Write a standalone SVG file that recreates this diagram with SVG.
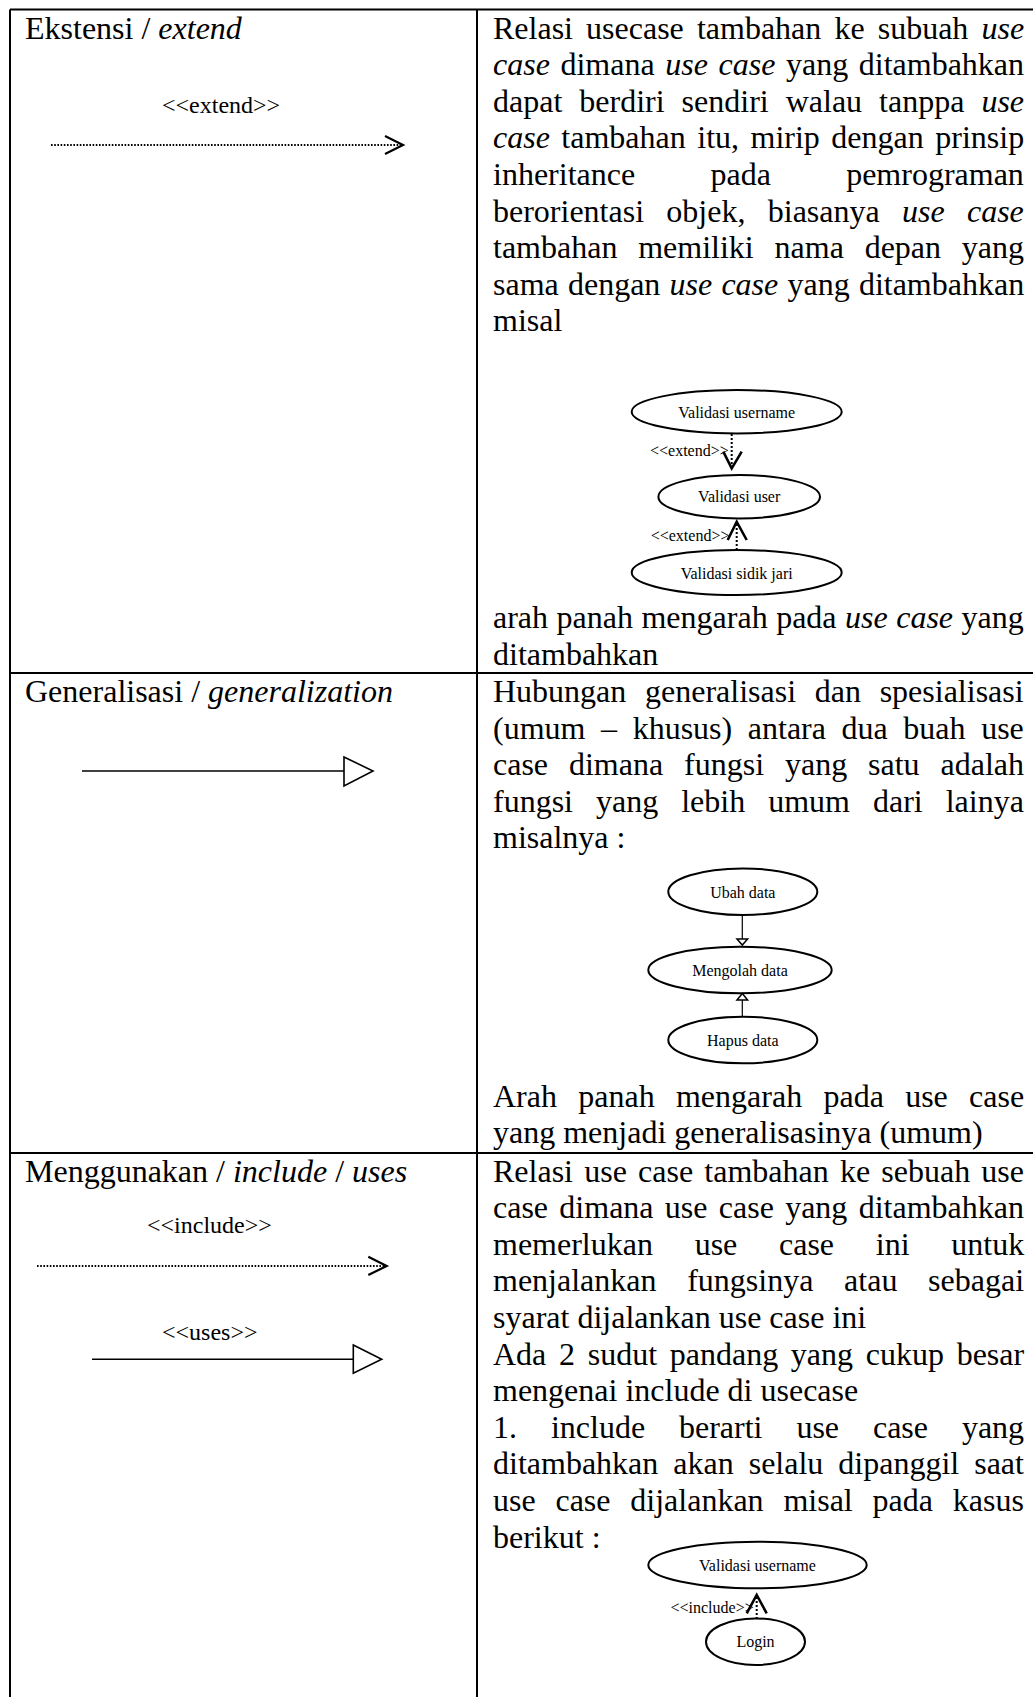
<svg xmlns="http://www.w3.org/2000/svg" width="1033" height="1697" viewBox="0 0 1033 1697">
<style>
.t{font-family:"Liberation Serif","Times New Roman",serif;font-size:32px;fill:#000;font-kerning:none}
.i{font-style:italic}
.lb{font-family:"Liberation Serif","Times New Roman",serif;font-size:24px;fill:#000}
.s{font-family:"Liberation Serif","Times New Roman",serif;font-size:16px;fill:#000}
.c{text-anchor:middle}
.grid{stroke:#000;stroke-width:2;fill:none}
.dot{stroke:#000;stroke-width:2;stroke-dasharray:1.6 1.6;fill:none}
.dot2{stroke:#000;stroke-width:2;stroke-dasharray:2 2;fill:none}
.sol{stroke:#000;stroke-width:1.6;fill:none}
.thin{stroke:#000;stroke-width:1.2;fill:none}
.chev{stroke:#000;stroke-width:2.2;fill:none;stroke-linejoin:miter}
.chev2{stroke:#000;stroke-width:2.6;fill:none}
.tri{stroke:#000;stroke-width:1.6;fill:#fff}
.tri2{stroke:#000;stroke-width:1.5;fill:#fff}
.uc{stroke:#000;stroke-width:2;fill:#fff}
</style>
<rect width="1033" height="1697" fill="#fff"/>
<g id="table">
<path class="grid" d="M10 9.5H1033M10 673H1033M10 1153H1033M10 9.5V1697M477 9.5V1697"/>
</g>
<g id="row1-left">
<text class="t" x="25" y="38.5">Ekstensi / <tspan class="i">extend</tspan></text>
<text class="lb" x="162" y="112.6">&lt;&lt;extend&gt;&gt;</text>
</g>
<g id="row1-right">
<text class="t" x="493" y="38.5" style="word-spacing:5.1px">Relasi usecase tambahan ke subuah <tspan class="i">use</tspan></text>
<text class="t" x="493" y="75.1" style="word-spacing:2.6px"><tspan class="i">case</tspan> dimana <tspan class="i">use case</tspan> yang ditambahkan</text>
<text class="t" x="493" y="111.7" style="word-spacing:9px">dapat berdiri sendiri walau tanppa <tspan class="i">use</tspan></text>
<text class="t" x="493" y="148.3" style="word-spacing:3.5px"><tspan class="i">case</tspan> tambahan itu, mirip dengan prinsip</text>
<text class="t" x="493" y="184.9" style="word-spacing:67.3px">inheritance pada pemrograman</text>
<text class="t" x="493" y="221.5" style="word-spacing:14.3px">berorientasi objek, biasanya <tspan class="i">use case</tspan></text>
<text class="t" x="493" y="258.1" style="word-spacing:12.8px">tambahan memiliki nama depan yang</text>
<text class="t" x="493" y="294.7" style="word-spacing:1.2px">sama dengan <tspan class="i">use case</tspan> yang ditambahkan</text>
<text class="t" x="493" y="331.3">misal</text>
<text class="t" x="493" y="628" style="word-spacing:0.5px">arah panah mengarah pada <tspan class="i">use case</tspan> yang</text>
<text class="t" x="493" y="664.6">ditambahkan</text>
</g>
<g id="row2-left">
<text class="t" x="25" y="702">Generalisasi / <tspan class="i">generalization</tspan></text>
</g>
<g id="row2-right">
<text class="t" x="493" y="702" style="word-spacing:10.7px">Hubungan generalisasi dan spesialisasi</text>
<text class="t" x="493" y="738.6" style="word-spacing:7.6px">(umum – khusus) antara dua buah use</text>
<text class="t" x="493" y="775.2" style="word-spacing:12.9px">case dimana fungsi yang satu adalah</text>
<text class="t" x="493" y="811.8" style="word-spacing:15px">fungsi yang lebih umum dari lainya</text>
<text class="t" x="493" y="848.4">misalnya :</text>
<text class="t" x="493" y="1106.6" style="word-spacing:13.3px">Arah panah mengarah pada use case</text>
<text class="t" x="493" y="1143.2">yang menjadi generalisasinya (umum)</text>
</g>
<g id="row3-left">
<text class="t" x="25" y="1181.5">Menggunakan / <tspan class="i">include</tspan> / <tspan class="i">uses</tspan></text>
<text class="lb" x="147" y="1233.3">&lt;&lt;include&gt;&gt;</text>
<text class="lb" x="162" y="1340">&lt;&lt;uses&gt;&gt;</text>
</g>
<g id="row3-right">
<text class="t" x="493" y="1181.5" style="word-spacing:3.2px">Relasi use case tambahan ke sebuah use</text>
<text class="t" x="493" y="1218.1" style="word-spacing:3.3px">case dimana use case yang ditambahkan</text>
<text class="t" x="493" y="1254.7" style="word-spacing:33.7px">memerlukan use case ini untuk</text>
<text class="t" x="493" y="1291.3" style="word-spacing:22.7px">menjalankan fungsinya atau sebagai</text>
<text class="t" x="493" y="1327.9">syarat dijalankan use case ini</text>
<text class="t" x="493" y="1364.5" style="word-spacing:4.7px">Ada 2 sudut pandang yang cukup besar</text>
<text class="t" x="493" y="1401.1">mengenai include di usecase</text>
<text class="t" x="493" y="1437.7" style="word-spacing:25.9px">1. include berarti use case yang</text>
<text class="t" x="493" y="1474.3" style="word-spacing:7px">ditambahkan akan selalu dipanggil saat</text>
<text class="t" x="493" y="1510.9" style="word-spacing:11.8px">use case dijalankan misal pada kasus</text>
<text class="t" x="493" y="1547.5">berikut :</text>
</g>
<g id="uc-validasi-username-1">
<ellipse class="uc" cx="736.7" cy="411.7" rx="105" ry="21.7"/>
<text class="s c" x="736.7" y="418">Validasi username</text>
</g>
<g id="uc-validasi-user">
<ellipse class="uc" cx="739.2" cy="496.7" rx="80.8" ry="21.7"/>
<text class="s c" x="739.2" y="501.7">Validasi user</text>
</g>
<g id="uc-validasi-sidik-jari">
<ellipse class="uc" cx="736.7" cy="572.5" rx="105" ry="22.5"/>
<text class="s c" x="736.7" y="578.5">Validasi sidik jari</text>
</g>
<g id="uc-ubah-data">
<ellipse class="uc" cx="742.8" cy="891.7" rx="74.5" ry="23.3"/>
<text class="s c" x="742.8" y="897.5">Ubah data</text>
</g>
<g id="uc-mengolah-data">
<ellipse class="uc" cx="740" cy="970" rx="91.7" ry="23.3"/>
<text class="s c" x="740" y="975.5">Mengolah data</text>
</g>
<g id="uc-hapus-data">
<ellipse class="uc" cx="742.8" cy="1040" rx="74.5" ry="23.3"/>
<text class="s c" x="742.8" y="1046">Hapus data</text>
</g>
<g id="uc-validasi-username-2">
<ellipse class="uc" cx="757.5" cy="1565" rx="109.2" ry="23.3"/>
<text class="s c" x="757.5" y="1570.5">Validasi username</text>
</g>
<g id="uc-login">
<ellipse class="uc" cx="755.5" cy="1641.7" rx="49.5" ry="23.3"/>
<text class="s c" x="755.5" y="1647">Login</text>
</g>
<g id="connectors">
<path class="dot" d="M51 145H401"/>
<path class="chev" d="M385 136L403 145L385 154"/>
<path class="sol" d="M82 771H344"/>
<path class="tri" d="M344 757L373 771L344 786Z"/>
<path class="dot" d="M37 1266H384"/>
<path class="chev" d="M368.3 1256.7L386.7 1266L368.3 1275"/>
<path class="sol" d="M92 1359.3H353.3"/>
<path class="tri" d="M353.3 1345L381.7 1359.3L353.3 1373.3Z"/>
<path class="dot2" d="M731.7 434V466"/>
<path class="chev2" d="M723.3 451.7L731.7 468.3L741.7 451.7"/>
<path class="dot2" d="M736.7 524V550"/>
<path class="chev2" d="M727.7 540L736.7 521.7L746.7 540"/>
<path class="thin" d="M742.3 915V939"/>
<path class="tri2" d="M737 939L747.6 939L742.3 945Z"/>
<path class="tri2" d="M742.3 993.5L747.6 1000L737 1000Z"/>
<path class="thin" d="M742.3 1000V1016.7"/>
<path class="dot2" d="M756.7 1597V1619"/>
<path class="chev2" d="M746.7 1613.3L756.7 1595L766.7 1613.3"/>
<text class="s" x="650" y="456">&lt;&lt;extend&gt;&gt;</text>
<text class="s" x="650.7" y="540.7">&lt;&lt;extend&gt;&gt;</text>
<text class="s" x="670.5" y="1612.7">&lt;&lt;include&gt;&gt;</text>
</g>
</svg>
